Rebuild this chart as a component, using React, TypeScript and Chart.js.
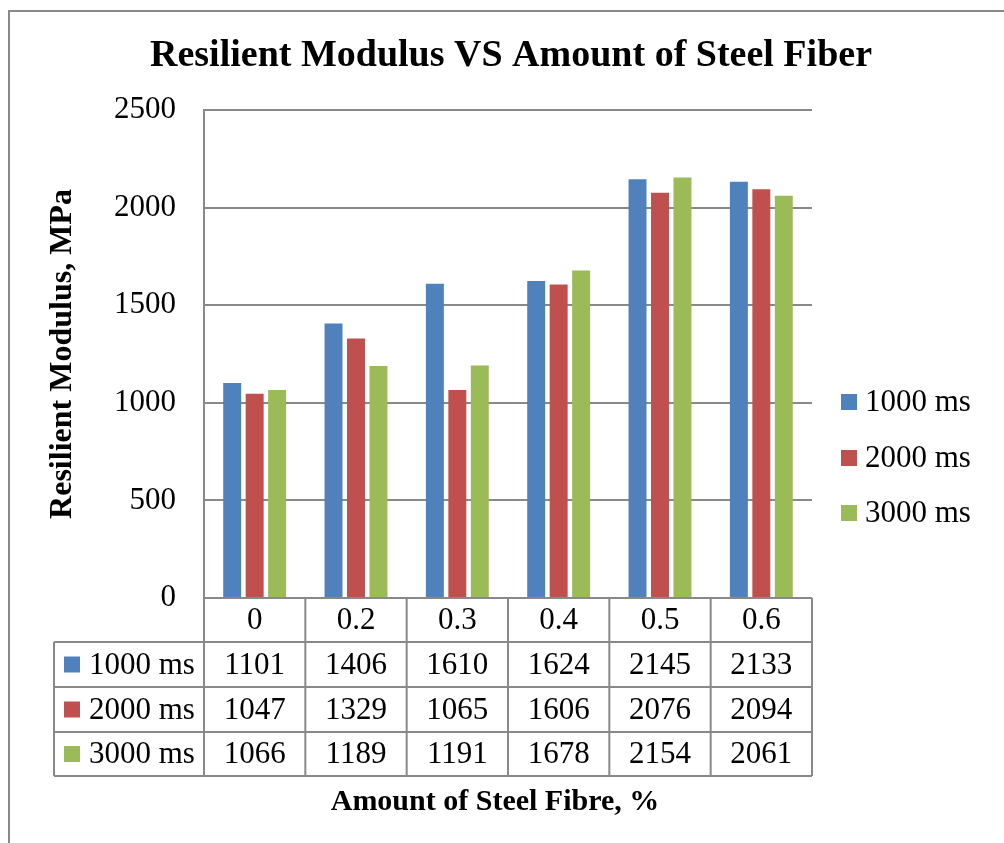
import React, { useEffect, useRef } from "react";
import { Chart, registerables } from "chart.js";

Chart.register(...registerables);

const categories = ["0", "0.2", "0.3", "0.4", "0.5", "0.6"];
const seriesNames = ["1000 ms", "2000 ms", "3000 ms"];
const values1000 = [1101, 1406, 1610, 1624, 2145, 2133];
const values2000 = [1047, 1329, 1065, 1606, 2076, 2094];
const values3000 = [1066, 1189, 1191, 1678, 2154, 2061];
const seriesColors = ["#4F81BD", "#C0504D", "#9BBB59"];

const chartTitle = "Resilient Modulus VS Amount of Steel Fiber";
const yTitle = "Resilient Modulus, MPa";
const xTitle = "Amount of Steel Fibre, %";

const SERIF = "'Liberation Serif', 'Times New Roman', serif";
const LINE = "#898989";

// Draws the title, the outer frame, the right-hand legend and the data table under the plot.
const decorations = {
  id: "decorations",
  afterDraw(chart: any) {
    const { ctx, chartArea } = chart;
    const xs = chart.scales.x;
    const n = categories.length;
    const half = (xs.getPixelForValue(1) - xs.getPixelForValue(0)) / 2;
    const bounds: number[] = [];
    for (let i = 0; i < n; i++) bounds.push(xs.getPixelForValue(i) - half);
    bounds.push(xs.getPixelForValue(n - 1) + half);

    const tableLeft = 54;
    const rows = [chartArea.bottom, 642, 687, 732, 776];
    const datasets = chart.data.datasets;

    ctx.save();

    // outer frame
    ctx.strokeStyle = LINE;
    ctx.lineWidth = 2;
    ctx.beginPath();
    ctx.moveTo(9, chart.height);
    ctx.lineTo(9, 11);
    ctx.lineTo(chart.width, 11);
    ctx.stroke();

    // chart title
    ctx.fillStyle = "#000";
    ctx.textAlign = "center";
    ctx.textBaseline = "middle";
    ctx.font = `bold 38px ${SERIF}`;
    ctx.fillText(chartTitle, 511, 56);

    // table grid
    ctx.strokeStyle = LINE;
    ctx.lineWidth = 2;
    ctx.beginPath();
    ctx.moveTo(bounds[0], rows[0]);
    ctx.lineTo(bounds[n], rows[0]);
    for (let r = 1; r < rows.length; r++) {
      ctx.moveTo(tableLeft, rows[r]);
      ctx.lineTo(bounds[n], rows[r]);
    }
    for (let i = 0; i <= n; i++) {
      ctx.moveTo(bounds[i], rows[0]);
      ctx.lineTo(bounds[i], rows[rows.length - 1]);
    }
    ctx.moveTo(tableLeft, rows[1]);
    ctx.lineTo(tableLeft, rows[rows.length - 1]);
    ctx.stroke();

    // table text
    ctx.font = `31px ${SERIF}`;
    ctx.fillStyle = "#000";
    ctx.textAlign = "center";
    for (let i = 0; i < n; i++) {
      const cx = xs.getPixelForValue(i);
      ctx.fillText(categories[i], cx, (rows[0] + rows[1]) / 2 + 1);
      datasets.forEach((ds: any, d: number) => {
        ctx.fillText(String(ds.data[i]), cx, (rows[d + 1] + rows[d + 2]) / 2 + 1);
      });
    }
    datasets.forEach((ds: any, d: number) => {
      const cy = (rows[d + 1] + rows[d + 2]) / 2;
      ctx.fillStyle = ds.backgroundColor;
      ctx.fillRect(64, cy - 8, 16, 16);
      ctx.fillStyle = "#000";
      ctx.textAlign = "left";
      ctx.fillText(ds.label, 89, cy + 1);
    });

    // legend
    const legendY = [402, 458, 513];
    datasets.forEach((ds: any, d: number) => {
      ctx.fillStyle = ds.backgroundColor;
      ctx.fillRect(841, legendY[d] - 8, 16, 16);
      ctx.fillStyle = "#000";
      ctx.textAlign = "left";
      ctx.fillText(ds.label, 865, legendY[d] + 1);
    });

    // x axis title
    ctx.font = `bold 30px ${SERIF}`;
    ctx.textAlign = "center";
    ctx.fillText(xTitle, 495, 802);

    ctx.restore();
  },
};

export default function App() {
  const ref = useRef<HTMLCanvasElement | null>(null);

  useEffect(() => {
    if (!ref.current) return;
    const seriesValues = [values1000, values2000, values3000];
    const chart = new Chart(ref.current, {
      type: "bar",
      data: {
        labels: categories,
        datasets: seriesNames.map((name, i) => ({
          label: name,
          data: seriesValues[i],
          backgroundColor: seriesColors[i],
          borderWidth: 0,
          categoryPercentage: 0.665,
          barPercentage: 0.8,
        })),
      },
      options: {
        responsive: false,
        animation: false,
        devicePixelRatio: 1,
        layout: { padding: { top: 110, right: 192, bottom: 0, left: 0 } },
        plugins: {
          legend: { display: false },
          title: { display: false },
          tooltip: { enabled: false },
        },
        scales: {
          x: {
            type: "category",
            ticks: { display: false },
            grid: { display: false },
            border: { display: false },
            afterFit: (s: any) => {
              s.height = 245;
            },
          },
          y: {
            min: 0,
            max: 2500,
            ticks: {
              stepSize: 500,
              color: "#000",
              padding: 28,
              font: { family: SERIF, size: 31 },
              callback: (v: any) => String(v),
            },
            grid: { color: LINE, lineWidth: 2, drawTicks: false },
            border: { display: true, color: LINE, width: 2 },
            title: {
              display: true,
              text: yTitle,
              color: "#000",
              font: { family: SERIF, size: 32, weight: "bold" },
              padding: { top: 44, bottom: 0 },
            },
            afterFit: (s: any) => {
              s.width = 204;
            },
          },
        },
      },
      plugins: [decorations],
    });
    return () => chart.destroy();
  }, []);

  return (
    <div style={{ position: "fixed", left: 0, top: 0, width: 1004, height: 843, background: "#fff" }}>
      <canvas ref={ref} width={1004} height={843} style={{ display: "block" }} />
    </div>
  );
}
